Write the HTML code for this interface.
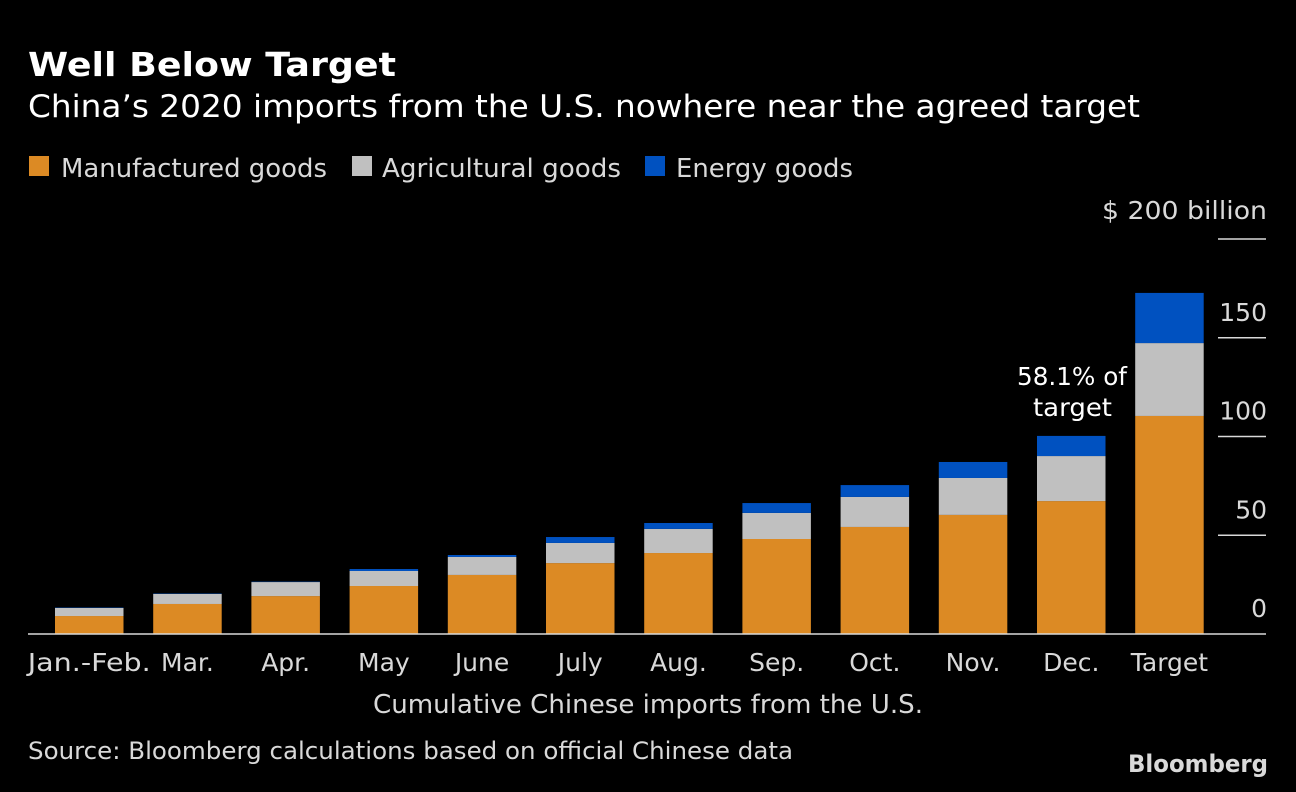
<!DOCTYPE html>
<html><head><meta charset="utf-8"><style>
html,body{margin:0;padding:0;background:#000;}
body{width:1296px;height:788px;overflow:hidden;font-family:"DejaVu Sans","Liberation Sans",sans-serif;color:#e6e6e6;}
</style></head><body>
<svg id="chart" width="1296" height="788" xmlns="http://www.w3.org/2000/svg" style="font-family:'DejaVu Sans','Liberation Sans',sans-serif">
<text x="28" y="76" fill="#fff" font-size="33" font-weight="bold" textLength="368" lengthAdjust="spacingAndGlyphs">Well Below Target</text>
<text x="28" y="117" fill="#fff" font-size="31" textLength="1112" lengthAdjust="spacingAndGlyphs">China’s 2020 imports from the U.S. nowhere near the agreed target</text>
<g>
<rect x="29" y="156" width="20" height="20" fill="#dc8a24"/>
<text x="61" y="177" fill="#d9d9d9" font-size="26" textLength="266" lengthAdjust="spacingAndGlyphs">Manufactured goods</text>
<rect x="352" y="156" width="20" height="20" fill="#c0c0c0"/>
<text x="382" y="177" fill="#d9d9d9" font-size="26" textLength="239" lengthAdjust="spacingAndGlyphs">Agricultural goods</text>
<rect x="645" y="156" width="20" height="20" fill="#0051c0"/>
<text x="676" y="177" fill="#d9d9d9" font-size="26" textLength="177" lengthAdjust="spacingAndGlyphs">Energy goods</text>
</g>
<text x="1102" y="219" fill="#d9d9d9" font-size="25" textLength="165" lengthAdjust="spacingAndGlyphs">$ 200  billion</text>
<g id="axis"></g>
<g id="bars"></g>
<text x="1017" y="385" fill="#fff" font-size="25" textLength="110" lengthAdjust="spacingAndGlyphs">58.1% of</text>
<text x="1033" y="416" fill="#fff" font-size="25" textLength="79" lengthAdjust="spacingAndGlyphs">target</text>
<text x="373" y="713" fill="#d9d9d9" font-size="26" textLength="550" lengthAdjust="spacingAndGlyphs">Cumulative Chinese imports from the U.S.</text>
<text x="28" y="759" fill="#d9d9d9" font-size="24" textLength="765" lengthAdjust="spacingAndGlyphs">Source: Bloomberg calculations based on official Chinese data</text>
<text x="1128" y="772" fill="#d9d9d9" font-size="24" font-weight="bold" textLength="140" lengthAdjust="spacingAndGlyphs">Bloomberg</text>
</svg>
<script>
const categories=["Jan.-Feb.","Mar.","Apr.","May","June","July","Aug.","Sep.","Oct.","Nov.","Dec.","Target"];
const manufactured=[9.1,15.2,19.2,24.3,29.9,35.9,41.0,48.1,54.2,60.3,67.3,110.4];
const agricultural=[4.1,5.1,7.1,7.6,9.1,10.2,12.2,13.2,15.2,18.7,22.8,36.9];
const energy=[0.2,0.2,0.2,1.0,1.0,3.0,3.0,5.0,6.0,8.1,10.2,25.4];
const yTicks=[0,50,100,150];
const ns="http://www.w3.org/2000/svg";
const y0=634,pxPer=(634-239)/200;
const y=v=>y0-v*pxPer;
const x=i=>55+i*98.2;
const bw=68.5;
const axis=document.getElementById('axis'),bars=document.getElementById('bars');
function mk(t,a,p){const e=document.createElementNS(ns,t);for(const k in a)e.setAttribute(k,a[k]);p.appendChild(e);return e;}
yTicks.forEach(t=>{
  if(t>0){const l=mk('line',{x1:1218,x2:1266,y1:y(t),y2:y(t),stroke:'#d9d9d9','stroke-width':1.5},axis);
  
  }
  const tx=mk('text',{x:1267,y:y(t)-17,fill:'#d9d9d9','font-size':25,'text-anchor':'end'},axis);
  tx.textContent=t;
  
  
});
const top200=mk('line',{x1:1218,x2:1266,y1:y(200),y2:y(200),stroke:'#d9d9d9','stroke-width':1.5},axis);


categories.forEach((c,i)=>{
  let base=0;
  [[manufactured,'#dc8a24','manufactured'],[agricultural,'#c0c0c0','agricultural'],[energy,'#0051c0','energy']].forEach(([arr,col,nm])=>{
    const v=arr[i];
    const r=mk('rect',{x:x(i),y:y(base+v),width:bw,height:v*pxPer,fill:col},bars);
    
    
    base+=v;
  });
  const t=mk('text',{x:x(i)+bw/2,y:671,fill:'#d9d9d9','font-size':25,'text-anchor':'middle'},bars);
  if(i===0){t.setAttribute('textLength',123);t.setAttribute('lengthAdjust','spacingAndGlyphs');}
  t.textContent=c;
  
  
});
const zl=mk('line',{x1:28,x2:1266,y1:y0,y2:y0,stroke:'#d9d9d9','stroke-width':1.5},bars);


</script>
</body></html>
